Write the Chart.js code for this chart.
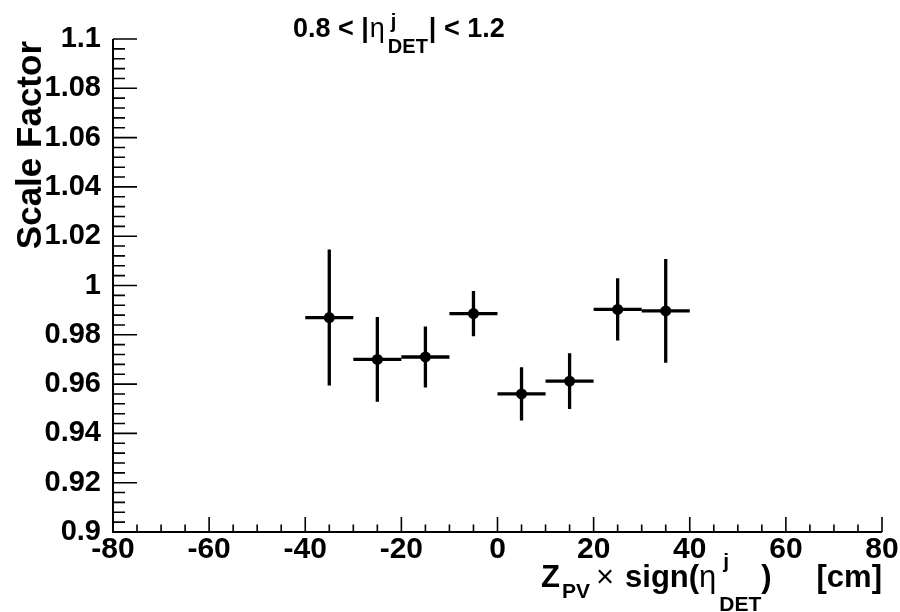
<!DOCTYPE html>
<html>
<head>
<meta charset="utf-8">
<script src="https://cdn.jsdelivr.net/npm/chart.js@4.4.1/dist/chart.umd.min.js"></script>
<style>
  html, body { margin: 0; padding: 0; background: #fff; }
  #wrap { width: 900px; height: 612px; }
</style>
</head>
<body>
<div id="wrap"><canvas id="sfChart"></canvas></div>
<script>
// bin centres (cm), measured scale factors and their errors
const zCenters = [-35, -25, -15, -5, 5, 15, 25, 35];
const scaleFactor = [0.987, 0.970, 0.971, 0.9886, 0.956, 0.9612, 0.9903, 0.9897];
const sfError = [0.0276, 0.0172, 0.0124, 0.0092, 0.0108, 0.0113, 0.0126, 0.021];
const binHalfWidth = [5, 5, 5, 5, 5, 5, 5, 5];

const FONT = '"Liberation Sans", Arial, Helvetica, sans-serif';

// draws a run of text pieces left to right; {gap} adds space,
// {stack} puts a sup and a sub at the same x
function drawRich(ctx, parts, x, y) {
  let cx = x;
  ctx.textAlign = 'left';
  ctx.textBaseline = 'alphabetic';
  parts.forEach(p => {
    if (p.gap) { cx += p.gap; return; }
    ctx.font = p.font;
    if (p.stack) {
      ctx.fillText(p.sup, cx + (p.supDx || 0), y + p.supDy);
      ctx.fillText(p.sub, cx, y + p.subDy);
      cx += Math.max(ctx.measureText(p.sup).width + (p.supDx || 0), ctx.measureText(p.sub).width);
    } else {
      ctx.fillText(p.t, cx, y + (p.dy || 0));
      cx += ctx.measureText(p.t).width;
    }
  });
}

const errorBars = {
  id: 'errorBars',
  beforeDatasetsDraw(chart) {
    const { ctx, scales: { x, y } } = chart;
    ctx.save();
    ctx.strokeStyle = '#000';
    ctx.lineWidth = 3.3;
    zCenters.forEach((z, i) => {
      const px = x.getPixelForValue(z);
      const py = y.getPixelForValue(scaleFactor[i]);
      ctx.beginPath();
      ctx.moveTo(x.getPixelForValue(z - binHalfWidth[i]), py);
      ctx.lineTo(x.getPixelForValue(z + binHalfWidth[i]), py);
      ctx.moveTo(px, y.getPixelForValue(scaleFactor[i] + sfError[i]));
      ctx.lineTo(px, y.getPixelForValue(scaleFactor[i] - sfError[i]));
      ctx.stroke();
    });
    ctx.restore();
  }
};

// ROOT style frame: left + bottom axes with inward ticks, plus titles
const rootFrame = {
  id: 'rootFrame',
  afterDraw(chart) {
    const { ctx, chartArea: a, scales: { x, y } } = chart;
    ctx.save();
    ctx.strokeStyle = '#000';
    ctx.fillStyle = '#000';
    ctx.lineWidth = 2;
    ctx.beginPath();
    ctx.moveTo(a.left, a.top);
    ctx.lineTo(a.left, a.bottom);
    ctx.lineTo(a.right, a.bottom);
    ctx.stroke();

    ctx.lineWidth = 1.6;
    ctx.beginPath();
    for (let v = -80; v <= 80; v += 5) {
      const px = x.getPixelForValue(v);
      const len = v % 20 === 0 ? 15 : 7.5;
      ctx.moveTo(px, a.bottom);
      ctx.lineTo(px, a.bottom - len);
    }
    for (let k = 0; k <= 50; k++) {
      const py = y.getPixelForValue(0.9 + k * 0.004);
      const len = k % 5 === 0 ? 24 : 12;
      ctx.moveTo(a.left, py);
      ctx.lineTo(a.left + len, py);
    }
    ctx.stroke();

    // y title
    ctx.save();
    ctx.translate(41, 41);
    ctx.rotate(-Math.PI / 2);
    ctx.font = 'bold 35px ' + FONT;
    ctx.textAlign = 'right';
    ctx.textBaseline = 'alphabetic';
    ctx.fillText('Scale Factor', 0, 0);
    ctx.restore();

    // pad title
    drawRich(ctx, [
      { t: '0.8 < |', font: 'bold 27px ' + FONT },
      { gap: 1 },
      { t: 'η', font: '27px ' + FONT },
      { gap: 3 },
      { stack: true, sup: 'j', sub: 'DET', supDy: -9, subDy: 16, supDx: 3, font: 'bold 20px ' + FONT },
      { gap: 1 },
      { t: '| < 1.2', font: 'bold 27px ' + FONT }
    ], 293, 37);

    // x title
    drawRich(ctx, [
      { t: 'Z', font: 'bold 31px ' + FONT },
      { gap: 2 },
      { t: 'PV', font: 'bold 21px ' + FONT, dy: 11 },
      { gap: 6 },
      { t: '×', font: '31px ' + FONT },
      { gap: 11 },
      { t: 'sign(', font: 'bold 31px ' + FONT },
      { t: 'η', font: '31px ' + FONT },
      { gap: 3 },
      { stack: true, sup: 'j', sub: 'DET', supDy: -19, subDy: 24, supDx: 4, font: 'bold 21px ' + FONT },
      { t: ')', font: 'bold 31px ' + FONT }
    ], 541, 587);
    ctx.font = 'bold 31px ' + FONT;
    ctx.textAlign = 'right';
    ctx.fillText('[cm]', 882, 587);
    ctx.restore();
  }
};

new Chart(document.getElementById('sfChart').getContext('2d'), {
  type: 'scatter',
  data: {
    datasets: [{
      data: zCenters.map((z, i) => ({ x: z, y: scaleFactor[i] })),
      pointRadius: 5.5,
      pointHoverRadius: 5.5,
      pointBackgroundColor: '#000',
      pointBorderWidth: 0
    }]
  },
  options: {
    responsive: true,
    maintainAspectRatio: false,
    animation: false,
    layout: { padding: { top: 39, right: 18, left: 0, bottom: 0 } },
    plugins: { legend: { display: false }, tooltip: { enabled: false } },
    scales: {
      x: {
        min: -80,
        max: 80,
        grid: { display: false },
        border: { display: false },
        ticks: {
          stepSize: 20,
          padding: -8,
          color: '#000',
          font: { family: FONT, size: 30, weight: 'bold' }
        },
        afterFit: s => { s.height = 80; }
      },
      y: {
        min: 0.9,
        max: 1.1,
        grid: { display: false },
        border: { display: false },
        ticks: {
          stepSize: 0.02,
          padding: 4,
          color: '#000',
          font: { family: FONT, size: 29, weight: 'bold' },
          callback: v => String(Number(v.toFixed(2)))
        },
        afterFit: s => { s.width = 113; }
      }
    }
  },
  plugins: [errorBars, rootFrame]
});
</script>
</body>
</html>
